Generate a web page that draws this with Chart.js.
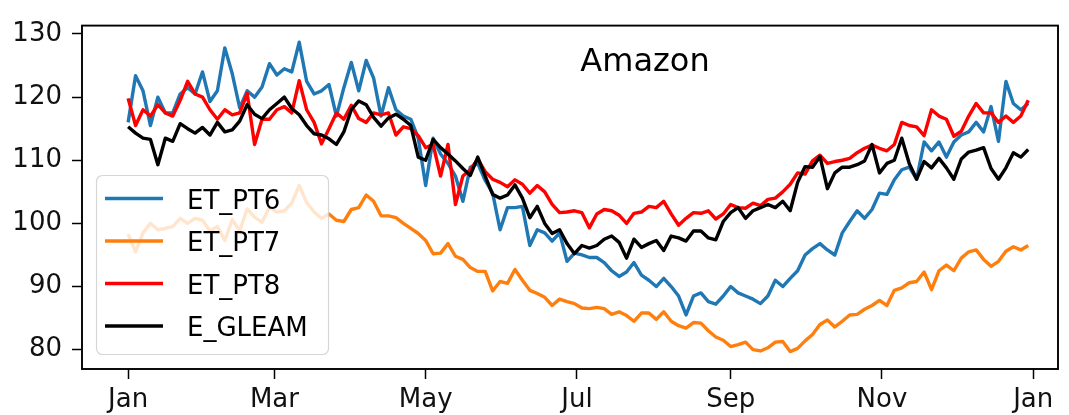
<!DOCTYPE html>
<html>
<head>
<meta charset="utf-8">
<script src="https://cdn.jsdelivr.net/npm/chart.js@4.4.0/dist/chart.umd.min.js"></script>
<style>
  html, body { margin: 0; padding: 0; background: #ffffff; }
  #wrap { width: 1069px; height: 415px; position: relative; }
</style>
</head>
<body>
<div id="wrap"><canvas id="c" width="1069" height="415"></canvas></div>
<script>
// Day-of-year sample positions (every third day)
const days = Array.from({ length: 122 }, (_, i) => i * 3);

// Month ticks on the day-of-year axis
const monthTickDays = [0, 59, 120, 181, 243, 304, 365];
const monthTickLabels = ['Jan', 'Mar', 'May', 'Jul', 'Sep', 'Nov', 'Jan'];
const yTickValues = [80, 90, 100, 110, 120, 130];

const seriesNames = ['ET_PT6', 'ET_PT7', 'ET_PT8', 'E_GLEAM'];
const seriesColors = ['#1f77b4', '#ff7f0e', '#ff0000', '#000000'];
const panelTitle = 'Amazon';

const etPT6 = [
  116, 123.4, 121, 115.5, 120, 117.5, 117.5, 120.5, 121.5, 120.5,
  124, 119.3, 121, 127.8, 123.7, 118.3, 121, 120, 121.6, 125.3,
  123.5, 124.5, 124, 128.7, 122.5, 120.5, 121, 122, 117, 121.5,
  125.5, 121, 125.8, 123, 117, 121.5, 118, 117, 116.5, 113.5,
  106, 113.5, 111, 109.5, 107.5, 103.5, 108.9, 109.5, 106.8, 104.8,
  99, 102.5, 102.5, 102.7, 96.5, 99, 98.5, 97.2, 98.5, 94,
  95.3, 95, 94.6, 94.6, 93.8, 92.5, 91.6, 92.3, 93.8, 91.8,
  91, 90, 91.3, 90, 88.5, 85.5, 88.5, 89, 87.6, 87.2,
  88.5, 90, 89, 88.5, 88, 87.3, 88.5, 91, 90, 91.3,
  92.5, 95, 96, 96.8, 95.8, 95, 98.5, 100.3, 102, 100.8,
  102.2, 104.8, 104.6, 106.9, 108.5, 108.9, 107, 112.9, 111.5, 112.9,
  110.5, 112.9, 114, 114.5, 116, 114.5, 118.5, 113, 122.5, 119,
  118, 119
];

const etPT7 = [
  98.3, 95.5, 98.5, 100, 99, 99.2, 99.5, 100.8, 100, 100.8,
  100.5, 98.8, 99.5, 97.3, 100.6, 98.8, 102.3, 101, 100.2, 102.6,
  101.8, 102, 103.2, 106, 103.3, 101.8, 100.8, 101.5, 100.5, 100.3,
  102.2, 102.5, 104.5, 103.5, 101.2, 101.2, 100.9, 100, 99.2, 98.4,
  97.3, 95.2, 95.3, 96.8, 94.8, 94.3, 93, 92.4, 92.4, 89.3,
  90.8, 90.5, 92.7, 91, 89.4, 88.9, 88.3, 87, 88, 87.6,
  87.3, 86.6, 86.5, 86.7, 86.5, 85.6, 86, 85.4, 84.5, 85.8,
  85.8, 84.8, 86, 84.5, 83.8, 83.4, 84.3, 84.2, 83, 82,
  81.5, 80.5, 80.8, 81.2, 80, 79.8, 80.3, 81.2, 81.3, 79.7,
  80.2, 81.4, 82.4, 84, 84.7, 83.6, 84.5, 85.5, 85.6, 86.4,
  87, 87.8, 87, 89.4, 89.8, 90.6, 90.8, 92.3, 89.5, 92.5,
  93.4, 92.5, 94.5, 95.5, 95.8, 94.3, 93.2, 94, 95.6, 96.3,
  95.8, 96.5
];

const etPT8 = [
  119.8, 115.5, 118, 117, 118.8, 117.5, 117, 119.5, 122.5, 120.5,
  120, 118, 116.5, 118, 117.2, 117.5, 120.6, 112.5, 116.5, 116.5,
  118, 118.5, 117.5, 122.6, 118, 116, 112.6, 115, 117.5, 116.5,
  118.7, 116.6, 116, 117.5, 117.2, 117.5, 114, 115.3, 115, 113.9,
  112, 112.5, 107.5, 112.5, 103, 107.5, 108.5, 110.2, 108.2, 107,
  106.5, 105.8, 106.9, 106.2, 104.8, 106, 105, 103, 101.7, 101.8,
  102, 101.7, 99.3, 101.5, 102.2, 102, 101.3, 100, 101.6, 101.8,
  102.7, 102.5, 103.5, 101.5, 99.7, 100.8, 101.7, 101.6, 102, 100.7,
  101.5, 103, 102.5, 102.4, 103.2, 102.8, 103.8, 104, 105, 106.2,
  108, 107.8, 109.9, 110.8, 109.5, 109.8, 110, 110.3, 111.2, 111.9,
  112.4, 111.9, 111.5, 112.5, 116, 115.5, 115.3, 113.9, 118, 117,
  116.5, 113.8, 114.6, 117, 119, 117.5, 117.5, 116, 117, 116,
  117, 119.5
];

const eGLEAM = [
  115.3, 114.3, 113.5, 113.3, 109.3, 113.5, 113, 115.8, 115, 114.3,
  115.2, 114, 116, 114.5, 114.8, 116.2, 118.8, 117.3, 116.6, 118,
  119, 120, 118.2, 117.2, 115.5, 114.2, 114, 113.4, 112.5, 114.5,
  118, 119.4, 118.8, 116.8, 115.4, 116.7, 117.3, 116.5, 115.5, 110.5,
  110, 113.3, 112, 111, 109.9, 108.7, 107.6, 110.5, 107.5, 104.6,
  104, 104.5, 106.1, 104, 100.9, 102.7, 100, 98.4, 99, 96.8,
  95.2, 96.5, 96.1, 96.5, 97.5, 98, 97, 94.5, 97.5, 96.2,
  96.8, 97.3, 95.7, 98, 97.7, 97.2, 98.8, 98.8, 97.7, 97.4,
  100.3, 101.7, 102.5, 100.8, 102, 102.5, 103, 102.5, 103.5, 102,
  106.5, 109, 108.9, 110.6, 105.5, 108, 108.9, 108.9, 109.3, 109.9,
  112.5, 108, 109.5, 110, 113.5, 109.5, 107, 109.8, 108.8, 110.3,
  108.8, 107, 110.2, 111.3, 111.6, 112, 108.7, 107, 108.8, 111.2,
  110.5, 111.7
];

const seriesValues = [etPT6, etPT7, etPT8, eGLEAM];

const FONT = '"DejaVu Sans", "Liberation Sans", sans-serif';

// Axes frame, panel title and an in-plot legend with a translucent box
const decorations = {
  id: 'decorations',
  afterDatasetsDraw(chart) {
    const { ctx, chartArea: a } = chart;
    ctx.save();

    // frame on all four sides
    ctx.strokeStyle = '#000000';
    ctx.lineWidth = 1.9;
    ctx.strokeRect(a.left, a.top, a.right - a.left, a.bottom - a.top);

    // title inside the plot
    ctx.fillStyle = '#000000';
    ctx.font = '32px ' + FONT;
    ctx.textAlign = 'center';
    ctx.textBaseline = 'alphabetic';
    ctx.fillText(panelTitle, 645, 71);

    // legend box
    const bx = 96.5, by = 175.5, bw = 232, bh = 179, r = 6;
    ctx.beginPath();
    ctx.moveTo(bx + r, by);
    ctx.lineTo(bx + bw - r, by);
    ctx.arcTo(bx + bw, by, bx + bw, by + r, r);
    ctx.lineTo(bx + bw, by + bh - r);
    ctx.arcTo(bx + bw, by + bh, bx + bw - r, by + bh, r);
    ctx.lineTo(bx + r, by + bh);
    ctx.arcTo(bx, by + bh, bx, by + bh - r, r);
    ctx.lineTo(bx, by + r);
    ctx.arcTo(bx, by, bx + r, by, r);
    ctx.closePath();
    ctx.fillStyle = 'rgba(255,255,255,0.8)';
    ctx.fill();
    ctx.strokeStyle = 'rgba(204,204,204,0.8)';
    ctx.lineWidth = 1.2;
    ctx.stroke();

    ctx.font = '26px ' + FONT;
    ctx.textAlign = 'left';
    chart.data.datasets.forEach((ds, i) => {
      const y = 198.5 + i * 42.5;
      ctx.strokeStyle = ds.borderColor;
      ctx.lineWidth = 3.6;
      ctx.beginPath();
      ctx.moveTo(105, y);
      ctx.lineTo(163, y);
      ctx.stroke();
      ctx.fillStyle = '#000000';
      ctx.fillText(ds.label, 187, y + 10);
    });

    ctx.restore();
  }
};

new Chart(document.getElementById('c'), {
  type: 'line',
  data: {
    datasets: seriesNames.map((name, i) => ({
      label: name,
      data: days.map((d, k) => ({ x: d, y: seriesValues[i][k] })),
      borderColor: seriesColors[i],
      borderWidth: 3.4,
      pointRadius: 0,
      tension: 0,
      fill: false,
      borderJoinStyle: 'round',
      order: seriesNames.length - i
    }))
  },
  options: {
    responsive: false,
    animation: false,
    events: [],
    layout: { padding: { top: 13, right: 11, left: 0, bottom: 0 } },
    plugins: {
      legend: { display: false },
      tooltip: { enabled: false },
      title: { display: false }
    },
    scales: {
      x: {
        type: 'linear',
        min: -18.6,
        max: 375,
        afterBuildTicks: (s) => { s.ticks = monthTickDays.map(v => ({ value: v })); },
        afterFit: (s) => { s.height = 46; },
        grid: {
          drawOnChartArea: false,
          drawTicks: true,
          tickLength: 10,
          tickWidth: 1.5,
          tickColor: '#000000'
        },
        border: { display: false },
        ticks: {
          autoSkip: false,
          maxRotation: 0,
          padding: 6,
          color: '#111111',
          font: { family: FONT, size: 26 },
          callback: (v, idx) => monthTickLabels[idx]
        }
      },
      y: {
        type: 'linear',
        min: 76.94,
        max: 131.33,
        afterBuildTicks: (s) => { s.ticks = yTickValues.map(v => ({ value: v })); },
        afterFit: (s) => { s.width = 82; },
        grid: {
          drawOnChartArea: false,
          drawTicks: true,
          tickLength: 10,
          tickWidth: 1.5,
          tickColor: '#000000'
        },
        border: { display: false },
        ticks: {
          padding: 10,
          color: '#111111',
          font: { family: FONT, size: 26 },
          callback: (v) => String(v)
        }
      }
    }
  },
  plugins: [decorations]
});
</script>
</body>
</html>
